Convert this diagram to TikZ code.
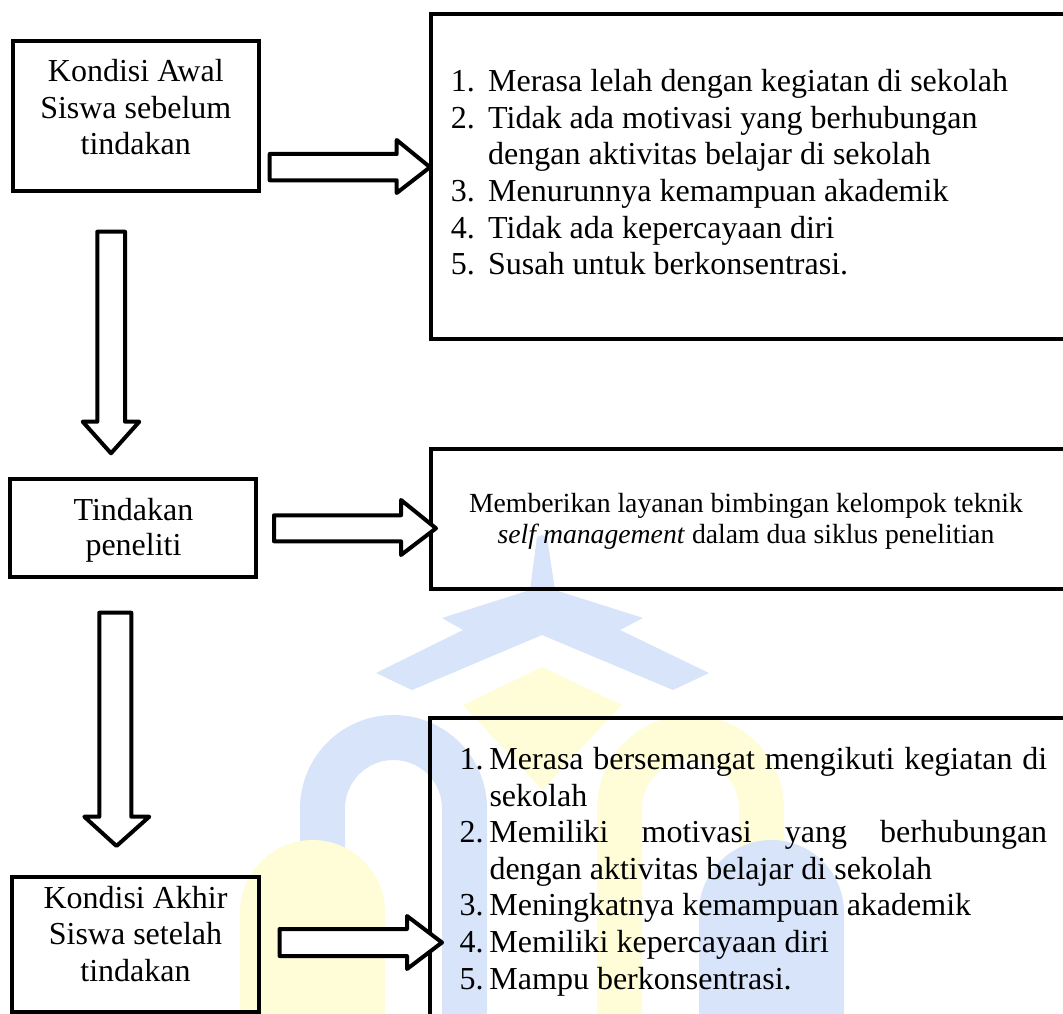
\documentclass[tikz,border=0pt]{standalone}
\usepackage{fontspec}
\setmainfont{Liberation Serif}
\usepackage{array}
\definecolor{wmblue}{RGB}{215,228,249}
\definecolor{wmyellow}{RGB}{255,253,215}
\tikzset{
  frame/.style={draw=black, line width=4pt, line join=miter},
  blockarrow/.style={draw=black, line width=4pt, line join=round, fill=white},
  bigtext/.style={inner sep=0pt, font=\fontsize{32}{36.6}\selectfont},
  smalltext/.style={inner sep=0pt, font=\fontsize{27.7}{31.3}\selectfont},
}
\newcommand\rightblock[7]{% L Y1 Y2 HB HT HBot tip(x,y)
  \draw[blockarrow] (#1,#2) -- (#4,#2) -- (#4,#5) -- #7 -- (#4,#6) -- (#4,#3) -- (#1,#3) -- cycle;}
\newcommand\downblock[7]{% X1 X2 T HB HL HR tip
  \draw[blockarrow] (#1,#3) -- (#2,#3) -- (#2,#4) -- (#6,#4) -- #7 -- (#5,#4) -- (#1,#4) -- cycle;}
% arch band: left outer x, outer radius, top y, thickness
\newcommand\archband[5]{%
  \fill[#1] (#2,1014) -- (#2,#4+#3) arc[start angle=180, end angle=360, radius=#3] -- (#2+2*#3,1014) -- (#2+2*#3-#5,1014) -- (#2+2*#3-#5,#4+#3) arc[start angle=0, end angle=-180, radius=#3-#5] -- (#2+#5,1014) -- cycle;}
\newcommand\pillar[4]{% colour, left x, radius, top y
  \fill[#1] (#2,1014) -- (#2,#4+#3) arc[start angle=180, end angle=360, radius=#3] -- (#2+2*#3,1014) -- cycle;}
\begin{document}
\begin{tikzpicture}[x=1pt,y=-1pt]
\useasboundingbox (0,0) rectangle (1063,1014);
\clip (0,0) rectangle (1063,1014);
% watermark (faint logo)
\fill[wmblue] (542,535) -- (547,537) -- (555,590) -- (643,618) -- (620,630) -- (709,673) -- (673,690) -- (542,635) -- (412,690) -- (376,673) -- (463,630) -- (442,618) -- (530,590) -- (537,537) -- cycle;
\fill[wmyellow] (542,667) -- (622,705) -- (542,790) -- (463,705) -- cycle;
\archband{wmblue}{300}{93.5}{715}{45}
\archband{wmyellow}{597}{93.5}{715}{45}
\pillar{wmyellow}{240}{72.5}{840}
\pillar{wmblue}{699}{72.5}{840}
% boxes
\node[frame, minimum width=246.3pt, minimum height=150.2pt] (awal) at (135.8,115.9) {};
\node[frame, minimum width=246.8pt, minimum height=98.3pt] (tindak) at (132.9,527.8) {};
\node[frame, minimum width=247pt, minimum height=134.7pt] (akhir) at (135.5,944.3) {};
\node[frame, minimum width=660pt, minimum height=325pt, anchor=north west] (hasilA) at (428.5,12) {};
\node[frame, minimum width=660pt, minimum height=140pt, anchor=north west] (hasilT) at (428.5,447) {};
\node[frame, minimum width=660pt, minimum height=330pt, anchor=north west] (hasilB) at (427.8,716) {};
% box texts
\node[bigtext, anchor=base] (tawal) at (135.8,81.7) {\begin{tabular}[t]{@{}c@{}}Kondisi Awal\\Siswa sebelum\\tindakan\end{tabular}};
\node[bigtext, anchor=base, font=\fontsize{32}{34.4}\selectfont] (ttindak) at (133.5,520.7) {\begin{tabular}[t]{@{}c@{}}Tindakan\\peneliti\end{tabular}};
\node[bigtext, anchor=base] (takhir) at (135.5,908.3) {\begin{tabular}[t]{@{}c@{}}Kondisi Akhir\\Siswa setelah\\tindakan\end{tabular}};
\node[bigtext, anchor=base west] (listA) at (450.7,91.7) {\begin{tabular}[t]{@{}l@{}}
\makebox[37.3pt][l]{1.}Merasa lelah dengan kegiatan di sekolah\\
\makebox[37.3pt][l]{2.}Tidak ada motivasi yang berhubungan\\
\makebox[37.3pt][l]{}dengan aktivitas belajar di sekolah\\
\makebox[37.3pt][l]{3.}Menurunnya kemampuan akademik\\
\makebox[37.3pt][l]{4.}Tidak ada kepercayaan diri\\
\makebox[37.3pt][l]{5.}Susah untuk berkonsentrasi.
\end{tabular}};
\node[smalltext, anchor=base] (ttindakan) at (746,512) {\begin{tabular}[t]{@{}c@{}}Memberikan layanan bimbingan kelompok teknik\\\textit{self management} dalam dua siklus penelitian\end{tabular}};
\node[bigtext, anchor=base west] (listB) at (459.3,769.5) {\begin{tabular}[t]{@{}l@{}}
\makebox[30pt][l]{1.}\makebox[557.7pt][s]{Merasa bersemangat mengikuti kegiatan di}\\
\makebox[30pt][l]{}sekolah\\
\makebox[30pt][l]{2.}\makebox[557.7pt][s]{Memiliki motivasi yang berhubungan}\\
\makebox[30pt][l]{}dengan aktivitas belajar di sekolah\\
\makebox[30pt][l]{3.}Meningkatnya kemampuan akademik\\
\makebox[30pt][l]{4.}Memiliki kepercayaan diri\\
\makebox[30pt][l]{5.}Mampu berkonsentrasi.
\end{tabular}};
% block arrows
\rightblock{269.7}{154}{180.3}{396.7}{140}{193}{(430,167.2)}
\rightblock{274}{515.3}{541.3}{401}{500}{555}{(436,528.3)}
\rightblock{279.6}{929}{956}{407}{916}{969}{(442,942.5)}
\downblock{97.3}{125}{231.7}{421.7}{82.7}{139.3}{(111,453.3)}
\downblock{99.3}{131.3}{612.7}{816.7}{84.3}{149.3}{(116.5,846)}
\end{tikzpicture}
\end{document}
